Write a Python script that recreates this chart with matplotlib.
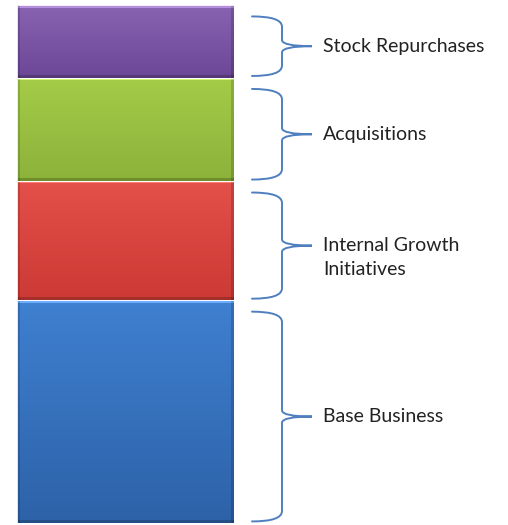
import numpy as np
import matplotlib
matplotlib.use("Agg")
import matplotlib.pyplot as plt
from matplotlib.colors import to_rgb
from matplotlib.path import Path
from matplotlib.patches import PathPatch

# === Data (bottom to top) ===
categories = ["Base Business", "Internal Growth\nInitiatives", "Acquisitions", "Stock Repurchases"]
values = [43, 23, 20, 14]
top_colors = ["#3f80d0", "#e4504a", "#a4cc48", "#8763b2"]
bottom_colors = ["#2d62a8", "#cc3a35", "#8cb23a", "#6c4797"]

BRACE_COLOR = "#4f7fbf"
PX_PER_UNIT = 5.18


def shaded_segment(ax, patch, c_top, c_bot):
    """Fill a bar patch with a vertical gradient and a soft bevel."""
    x, y = patch.get_x(), patch.get_y()
    w, h = patch.get_width(), patch.get_height()
    rows = max(int(h * PX_PER_UNIT), 2)
    cols = int(w)
    t = np.linspace(0, 1, rows)[:, None]
    top, bot = np.array(to_rgb(c_top)), np.array(to_rgb(c_bot))
    img = top + (bot - top) * t[..., None]
    img = np.repeat(img, cols, axis=1)
    # bevel: light rim on top, dark rim at bottom and sides
    img[:3] = np.clip(img[:3] + 0.18, 0, 1)
    img[-3:] *= 0.8
    img[:, :3] *= 0.85
    img[:, -3:] *= 0.85
    im = ax.imshow(img, extent=(x, x + w, y, y + h), aspect="auto",
                   interpolation="bilinear", zorder=2)
    im.set_clip_path(patch)


def brace(ax, x0, top, bot, depth=30, tip=30, r=2.0):
    """Right-facing curly brace between y=bot and y=top."""
    xm, xt = x0 + depth, x0 + depth + tip
    mid = (top + bot) / 2
    verts = [
        (x0, top), (xm, top), (xm, top - r),
        (xm, mid + r * 0.6), (xm, mid), (xt, mid),
        (xm, mid), (xm, mid - r * 0.6),
        (xm, bot + r), (xm, bot), (x0, bot),
    ]
    codes = [
        Path.MOVETO, Path.CURVE3, Path.CURVE3,
        Path.LINETO, Path.CURVE3, Path.CURVE3,
        Path.CURVE3, Path.CURVE3,
        Path.LINETO, Path.CURVE3, Path.CURVE3,
    ]
    ax.add_patch(PathPatch(Path(verts, codes), fill=False, edgecolor=BRACE_COLOR,
                           lw=1.4, capstyle="round", zorder=3))
    return xt, mid


fig = plt.figure(figsize=(5.08, 5.25), dpi=100)
ax = fig.add_axes([0, 0, 1, 1])
ax.set_xlim(0, 508)
ax.set_ylim(-0.39, sum(values) + 0.97)
ax.axis("off")

bottoms = np.concatenate([[0], np.cumsum(values)[:-1]])
bars = ax.bar(125.5, values, width=217, bottom=bottoms, color="none",
              edgecolor="#ffffff", linewidth=0.6, zorder=4)

for patch, label, ct, cb in zip(bars.patches, categories, top_colors, bottom_colors):
    shaded_segment(ax, patch, ct, cb)
    y0, y1 = patch.get_y(), patch.get_y() + patch.get_height()
    xt, mid = brace(ax, 252, y1 - 2.2, y0 + 0.3)
    # two-line labels sit a little below the brace tip
    ty = mid - 2.3 * label.count("\n")
    ax.text(xt + 11, ty, label, fontsize=14, family="Lato",
            color="#222222", va="center", ha="left", linespacing=1.55)

fig.savefig("out.png", dpi=100)
